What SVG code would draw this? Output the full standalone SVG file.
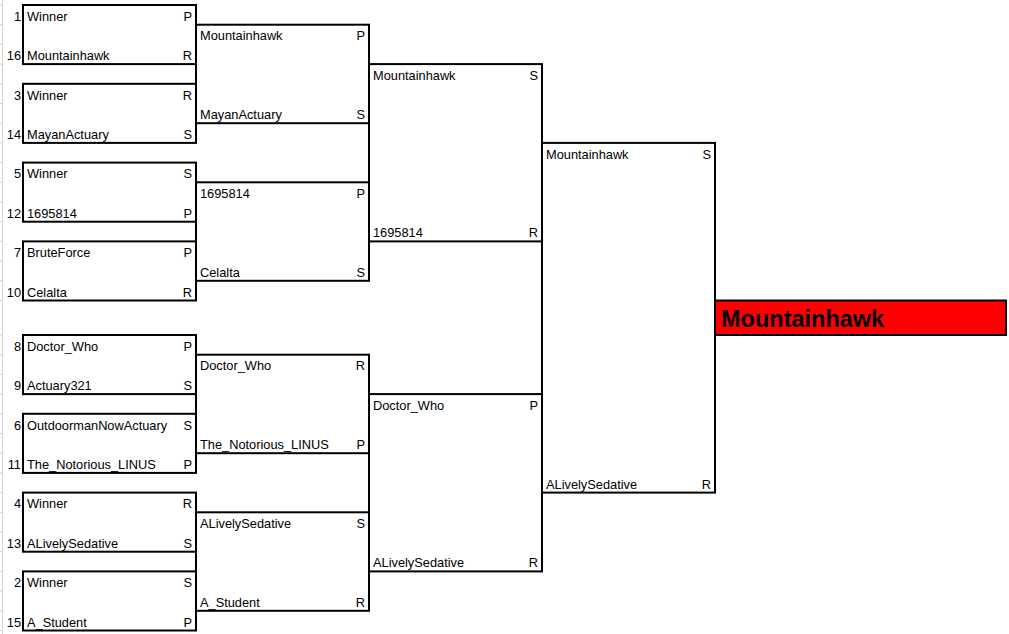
<svg xmlns="http://www.w3.org/2000/svg" width="1009" height="634" viewBox="0 0 1009 634">
<style>
.box{fill:none;stroke:#000;stroke-width:2}
.win{fill:#ff0000;stroke:#000;stroke-width:2}
text{font-family:"Liberation Sans",Arial,sans-serif;font-size:12.8px;fill:#000}
.e{text-anchor:end}
.big{font-size:23.5px;font-weight:bold}
.grid{stroke:#d4d4d4;stroke-width:1;fill:none}
</style>
<rect x="0" y="0" width="1009" height="634" fill="#fff"/>
<g id="rowheader">
<path class="grid" d="M2.5 0V634M0 5H3M0 24.7H3M0 44.4H3M0 64.1H3M0 83.8H3M0 103.5H3M0 123.2H3M0 142.9H3M0 162.6H3M0 182.3H3M0 202H3M0 221.7H3M0 241.4H3M0 261.1H3M0 280.8H3M0 300.5H3M0 335H3M0 354.7H3M0 374.4H3M0 394.1H3M0 413.8H3M0 433.5H3M0 453.2H3M0 472.9H3M0 492.6H3M0 512.3H3M0 532H3M0 551.7H3M0 571.4H3M0 591.1H3M0 610.8H3M0 630.5H3"/>
</g>
<g id="connectors"></g>
<g id="r1m1"><rect class="box" x="23" y="5" width="173" height="59.1"/>
<text class="e" x="21" y="20.7">1</text><text x="27" y="20.7">Winner</text><text class="e" x="192" y="20.7">P</text>
<text class="e" x="21" y="60.1">16</text><text x="27" y="60.1">Mountainhawk</text><text class="e" x="192" y="60.1">R</text></g>
<g id="r1m2"><rect class="box" x="23" y="83.8" width="173" height="59.1"/>
<text class="e" x="21" y="99.5">3</text><text x="27" y="99.5">Winner</text><text class="e" x="192" y="99.5">R</text>
<text class="e" x="21" y="138.9">14</text><text x="27" y="138.9">MayanActuary</text><text class="e" x="192" y="138.9">S</text></g>
<g id="r1m3"><rect class="box" x="23" y="162.6" width="173" height="59.1"/>
<text class="e" x="21" y="178.3">5</text><text x="27" y="178.3">Winner</text><text class="e" x="192" y="178.3">S</text>
<text class="e" x="21" y="217.7">12</text><text x="27" y="217.7">1695814</text><text class="e" x="192" y="217.7">P</text></g>
<g id="r1m4"><rect class="box" x="23" y="241.4" width="173" height="59.1"/>
<text class="e" x="21" y="257.1">7</text><text x="27" y="257.1">BruteForce</text><text class="e" x="192" y="257.1">P</text>
<text class="e" x="21" y="296.5">10</text><text x="27" y="296.5">Celalta</text><text class="e" x="192" y="296.5">R</text></g>
<g id="r1m5"><rect class="box" x="23" y="335" width="173" height="59.1"/>
<text class="e" x="21" y="350.7">8</text><text x="27" y="350.7">Doctor_Who</text><text class="e" x="192" y="350.7">P</text>
<text class="e" x="21" y="390.1">9</text><text x="27" y="390.1">Actuary321</text><text class="e" x="192" y="390.1">S</text></g>
<g id="r1m6"><rect class="box" x="23" y="413.8" width="173" height="59.1"/>
<text class="e" x="21" y="429.5">6</text><text x="27" y="429.5">OutdoormanNowActuary</text><text class="e" x="192" y="429.5">S</text>
<text class="e" x="21" y="468.9">11</text><text x="27" y="468.9">The_Notorious_LINUS</text><text class="e" x="192" y="468.9">P</text></g>
<g id="r1m7"><rect class="box" x="23" y="492.6" width="173" height="59.1"/>
<text class="e" x="21" y="508.3">4</text><text x="27" y="508.3">Winner</text><text class="e" x="192" y="508.3">R</text>
<text class="e" x="21" y="547.7">13</text><text x="27" y="547.7">ALivelySedative</text><text class="e" x="192" y="547.7">S</text></g>
<g id="r1m8"><rect class="box" x="23" y="571.4" width="173" height="59.1"/>
<text class="e" x="21" y="587.1">2</text><text x="27" y="587.1">Winner</text><text class="e" x="192" y="587.1">S</text>
<text class="e" x="21" y="626.5">15</text><text x="27" y="626.5">A_Student</text><text class="e" x="192" y="626.5">P</text></g>
<g id="r2m1"><rect class="box" x="196" y="24.7" width="173" height="98.5"/>
<text x="200" y="40.4">Mountainhawk</text><text class="e" x="365" y="40.4">P</text>
<text x="200" y="119.2">MayanActuary</text><text class="e" x="365" y="119.2">S</text></g>
<g id="r2m2"><rect class="box" x="196" y="182.3" width="173" height="98.5"/>
<text x="200" y="198">1695814</text><text class="e" x="365" y="198">P</text>
<text x="200" y="276.8">Celalta</text><text class="e" x="365" y="276.8">S</text></g>
<g id="r2m3"><rect class="box" x="196" y="354.7" width="173" height="98.5"/>
<text x="200" y="370.4">Doctor_Who</text><text class="e" x="365" y="370.4">R</text>
<text x="200" y="449.2">The_Notorious_LINUS</text><text class="e" x="365" y="449.2">P</text></g>
<g id="r2m4"><rect class="box" x="196" y="512.3" width="173" height="98.5"/>
<text x="200" y="528">ALivelySedative</text><text class="e" x="365" y="528">S</text>
<text x="200" y="606.8">A_Student</text><text class="e" x="365" y="606.8">R</text></g>
<g id="r3m1"><rect class="box" x="369" y="64.1" width="173" height="177.3"/>
<text x="373" y="79.8">Mountainhawk</text><text class="e" x="538" y="79.8">S</text>
<text x="373" y="237.4">1695814</text><text class="e" x="538" y="237.4">R</text></g>
<g id="r3m2"><rect class="box" x="369" y="394.1" width="173" height="177.3"/>
<text x="373" y="409.8">Doctor_Who</text><text class="e" x="538" y="409.8">P</text>
<text x="373" y="567.4">ALivelySedative</text><text class="e" x="538" y="567.4">R</text></g>
<g id="r4m1"><rect class="box" x="542" y="142.9" width="173" height="349.7"/>
<text x="546" y="158.6">Mountainhawk</text><text class="e" x="711" y="158.6">S</text>
<text x="546" y="488.6">ALivelySedative</text><text class="e" x="711" y="488.6">R</text></g>
<g id="champion"><rect class="win" x="715" y="300.5" width="291" height="34.5"/>
<text class="big" x="721" y="327">Mountainhawk</text></g>
</svg>
